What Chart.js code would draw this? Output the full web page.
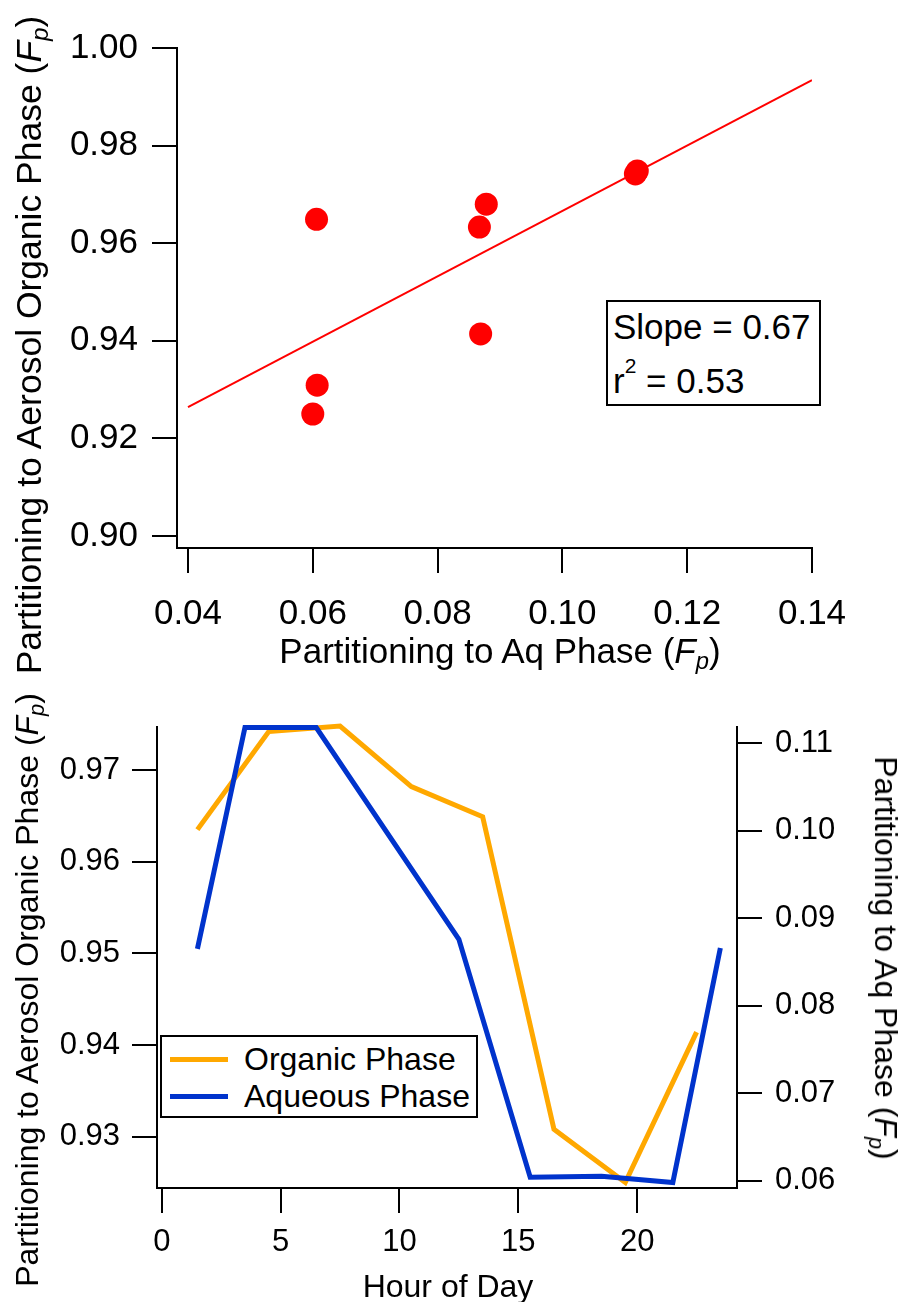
<!DOCTYPE html>
<html>
<head>
<meta charset="utf-8">
<script src="https://cdn.jsdelivr.net/npm/chart.js@4.4.0/dist/chart.umd.min.js"></script>
<style>
  body { margin: 0; background: #fff; }
  #page { position: relative; width: 903px; height: 1302px; font-family: 'Liberation Sans', Arial, sans-serif; color: #000; }
  canvas { position: absolute; left: 0; }
  .title { position: absolute; white-space: nowrap; line-height: 1; }
  .title sub { font-size: 0.68em; vertical-align: -0.28em; line-height: 0; }
  .frame { position: absolute; box-sizing: border-box; border: 2px solid #000; background: #fff; }
  .txt { position: absolute; white-space: nowrap; line-height: 1; }
  .swatch { position: absolute; height: 5px; width: 58px; }
</style>
</head>
<body>
<div id="page">
  <canvas id="fitChart" width="903" height="690" style="top:0"></canvas>
  <canvas id="diurnalChart" width="903" height="612" style="top:690px"></canvas>

  <!-- axis titles -->
  <div class="title" style="font-size:35.5px; left:30px; top:345px; transform: translate(-50%,-50%) rotate(-90deg);">Partitioning to Aerosol Organic Phase (<i>F</i><sub><i>p</i></sub>)</div>
  <div class="title" style="font-size:35px; left:500px; top:650px; transform: translate(-50%,-50%);">Partitioning to Aq Phase (<i>F</i><sub><i>p</i></sub>)</div>
  <div class="title" style="font-size:32px; left:27px; top:990px; transform: translate(-50%,-50%) rotate(-90deg);">Partitioning to Aerosol Organic Phase (<i>F</i><sub><i>p</i></sub>)</div>
  <div class="title" style="font-size:32px; left:886px; top:958px; transform: translate(-50%,-50%) rotate(90deg);">Partitioning to Aq Phase (<i>F</i><sub><i>p</i></sub>)</div>
  <div class="title" style="font-size:32px; left:448px; top:1286px; transform: translate(-50%,-50%);">Hour of Day</div>

  <!-- fit statistics box -->
  <div class="frame" style="left:606px; top:300px; width:215px; height:106px;"></div>
  <div class="txt" style="font-size:35px; left:613px; top:309px;">Slope = 0.67</div>
  <div class="txt" style="font-size:35px; left:613px; top:363px;">r<span style="font-size:21px; position:relative; top:-20px;">2</span> = 0.53</div>

  <!-- legend -->
  <div class="frame" style="left:160px; top:1035px; width:318px; height:83px;"></div>
  <div class="swatch" style="left:170px; top:1057px; background:#FFA800;"></div>
  <div class="swatch" style="left:170px; top:1094px; background:#0033CC;"></div>
  <div class="txt" style="font-size:32px; left:244px; top:1043px;">Organic Phase</div>
  <div class="txt" style="font-size:32px; left:244px; top:1080px;">Aqueous Phase</div>
</div>

<script>
// 散点图数据（读自图片）
const aqPhaseFp = [0.0606, 0.0878, 0.0867, 0.1117, 0.1120, 0.0869, 0.0607, 0.0600];
const orgPhaseFp = [0.9649, 0.9680, 0.9633, 0.9742, 0.9748, 0.9414, 0.9309, 0.9250];
// 拟合线两端
const fitX = [0.04, 0.14];
const fitY = [0.9264, 0.9934];
const topXTicks = [0.04, 0.06, 0.08, 0.10, 0.12, 0.14];
const topYTicks = [0.90, 0.92, 0.94, 0.96, 0.98, 1.00];

// 日变化数据
const organicHours = [1.5, 4.5, 7.5, 10.5, 13.5, 16.5, 19.5, 22.5];
const organicFp = [0.9635, 0.9742, 0.9748, 0.9682, 0.9649, 0.9308, 0.9250, 0.9414];
const aqueousHours = [1.5, 3.5, 6.5, 12.5, 15.5, 18.5, 21.5, 23.5];
const aqueousFp = [0.0865, 0.1118, 0.1118, 0.0876, 0.0604, 0.0605, 0.0598, 0.0866];
const hourTicks = [0, 5, 10, 15, 20];
const leftYTicks = [0.93, 0.94, 0.95, 0.96, 0.97];
const rightYTicks = [0.06, 0.07, 0.08, 0.09, 0.10, 0.11];

Chart.defaults.font.family = "'Liberation Sans', Arial, sans-serif";
Chart.defaults.color = '#000';

// 固定刻度
function fixedTicks(list) {
  return (scale) => { scale.ticks = list.map(v => ({ value: v })); };
}

function axisStyle(size, pad, fmt) {
  return {
    grid: { drawOnChartArea: false, drawTicks: true, tickLength: 25, color: '#000', lineWidth: 2 },
    border: { display: true, color: '#000', width: 2 },
    ticks: { font: { size: size }, padding: pad, color: '#000', callback: fmt }
  };
}

const zip = (xs, ys) => xs.map((x, i) => ({ x: x, y: ys[i] }));

// 上图：散点 + 拟合线
new Chart(document.getElementById('fitChart'), {
  type: 'scatter',
  data: {
    datasets: [{
      data: zip(aqPhaseFp, orgPhaseFp),
      backgroundColor: '#FF0000',
      borderWidth: 0,
      pointRadius: 11.5,
      clip: false,
      order: 0
    }, {
      data: zip(fitX, fitY),
      showLine: true,
      borderColor: '#FF0000',
      borderWidth: 2,
      pointRadius: 0,
      order: 1
    }]
  },
  options: {
    responsive: false,
    animation: false,
    layout: { padding: { top: 48, right: 91, left: 0, bottom: 0 } },
    plugins: { legend: { display: false }, tooltip: { enabled: false } },
    scales: {
      x: Object.assign(axisStyle(35, 20, v => v.toFixed(2)), {
        type: 'linear', min: 0.03824, max: 0.14,
        afterBuildTicks: fixedTicks(topXTicks),
        afterFit: (s) => { s.height = 142; }
      }),
      y: Object.assign(axisStyle(35, 14, v => v.toFixed(2)), {
        type: 'linear', min: 0.897541, max: 1.00,
        afterBuildTicks: fixedTicks(topYTicks),
        afterFit: (s) => { s.width = 177; }
      })
    }
  }
});

// 下图：日变化双轴折线
new Chart(document.getElementById('diurnalChart'), {
  type: 'line',
  data: {
    datasets: [{
      label: 'Organic Phase',
      data: zip(organicHours, organicFp),
      borderColor: '#FFA800',
      borderWidth: 5,
      pointRadius: 0,
      clip: 6,
      yAxisID: 'y',
      order: 1
    }, {
      label: 'Aqueous Phase',
      data: zip(aqueousHours, aqueousFp),
      borderColor: '#0033CC',
      borderWidth: 5,
      pointRadius: 0,
      clip: 6,
      yAxisID: 'y1',
      order: 0
    }]
  },
  options: {
    responsive: false,
    animation: false,
    layout: { padding: { top: 37, right: 0, left: 0, bottom: 0 } },
    plugins: { legend: { display: false }, tooltip: { enabled: false } },
    scales: {
      x: Object.assign(axisStyle(31, 11, v => String(v)), {
        type: 'linear', min: -0.2, max: 24.2,
        afterBuildTicks: fixedTicks(hourTicks),
        afterFit: (s) => { s.height = 114; }
      }),
      y: Object.assign(axisStyle(31, 12, v => v.toFixed(2)), {
        type: 'linear', position: 'left', min: 0.9244, max: 0.9747,
        afterBuildTicks: fixedTicks(leftYTicks),
        afterFit: (s) => { s.width = 157; }
      }),
      y1: Object.assign(axisStyle(31, 13, v => v.toFixed(2)), {
        type: 'linear', position: 'right', min: 0.05917, max: 0.11186,
        afterBuildTicks: fixedTicks(rightYTicks),
        afterFit: (s) => { s.width = 166; }
      })
    }
  }
});
</script>
</body>
</html>
